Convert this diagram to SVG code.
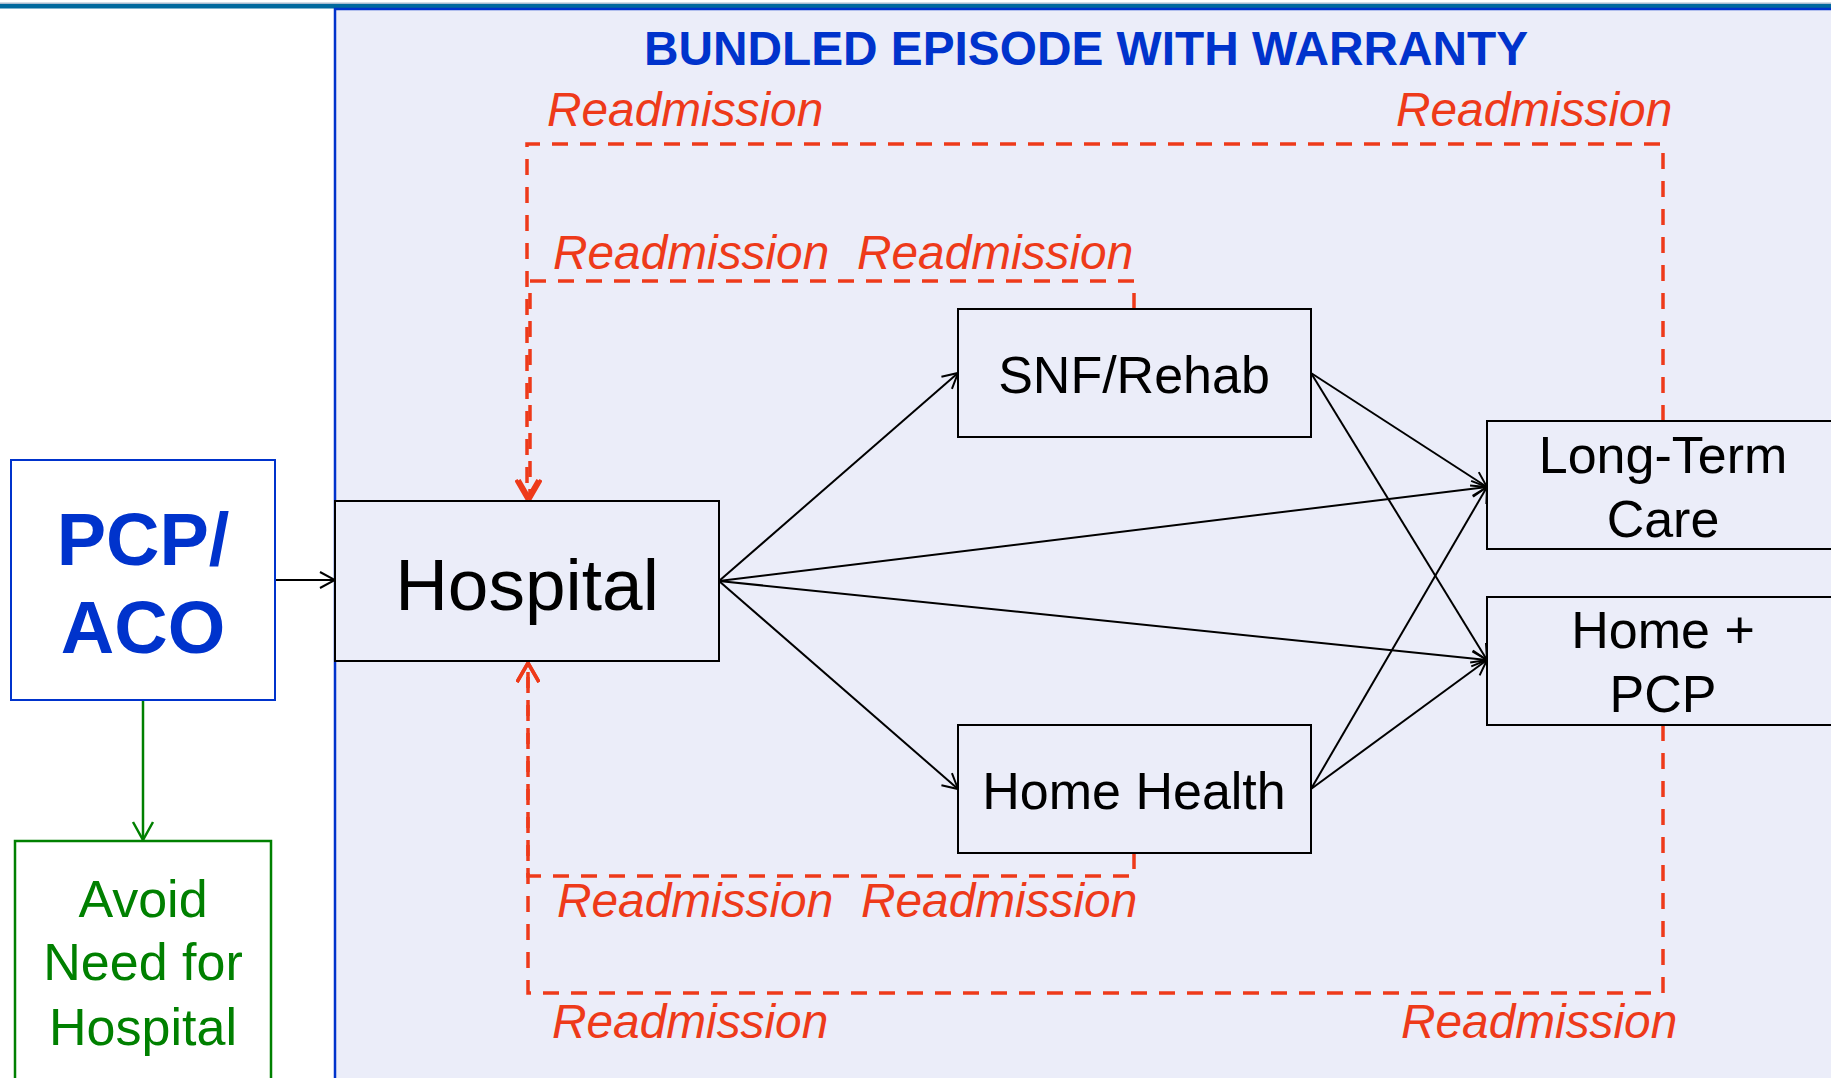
<svg xmlns="http://www.w3.org/2000/svg" width="1831" height="1078" viewBox="0 0 1831 1078">
<style>
.box{fill:#EBEDF9;stroke:#000;stroke-width:2}
.lbl{font-family:"Liberation Sans",Arial,sans-serif;font-size:52px;fill:#000;text-anchor:middle}
.ra{font-family:"Liberation Sans",Arial,sans-serif;font-size:47.8px;font-style:italic;fill:#EE3A1A}
.conn{stroke:#000;stroke-width:2;fill:none;marker-end:url(#ab)}
.red{stroke:#EE3A1A;stroke-width:3.5;fill:none;stroke-dasharray:16 12}
</style>
<defs>
<marker id="ab" viewBox="0 0 20 20" refX="19" refY="10" markerWidth="20" markerHeight="20" markerUnits="userSpaceOnUse" orient="auto">
<path d="M4,2 L19,10 L4,18" fill="none" stroke="#000" stroke-width="2"/>
</marker>
<marker id="ag" viewBox="0 0 24 24" refX="22" refY="12" markerWidth="24" markerHeight="24" markerUnits="userSpaceOnUse" orient="auto">
<path d="M4,2 L22,12 L4,22" fill="none" stroke="#008000" stroke-width="2.5"/>
</marker>
<marker id="ar" viewBox="0 0 24 24" refX="22" refY="12" markerWidth="24" markerHeight="24" markerUnits="userSpaceOnUse" orient="auto">
<path d="M3,1 L22,12 L3,23" fill="none" stroke="#EE3A1A" stroke-width="3.5"/>
</marker>
</defs>
<rect width="1831" height="1078" fill="#fff"/>
<rect x="0" y="2.5" width="1831" height="1.5" fill="#A8BCD0"/>
<rect x="0" y="4" width="1831" height="4.5" fill="#00699E"/>
<g id="panel">
<rect x="335" y="9" width="1500" height="1075" fill="#EBEDF9" stroke="#0033CC" stroke-width="2.5"/>
<text x="1086" y="65" font-family="'Liberation Sans',Arial,sans-serif" font-size="47.8" font-weight="bold" fill="#0033CC" text-anchor="middle">BUNDLED EPISODE WITH WARRANTY</text>
</g>
<g id="connectors">
<path class="red" d="M1663,421 V144 H527 V499" marker-end="url(#ar)"/>
<path class="red" d="M1134,309 V281 H530 V499" marker-end="url(#ar)"/>
<path class="red" d="M1134,853 V876 H528 V663" marker-end="url(#ar)"/>
<path class="red" d="M1663,725 V993 H528 V663" marker-end="url(#ar)"/>
<line class="conn" x1="275" y1="580" x2="335" y2="580"/>
<line class="conn" x1="719" y1="581" x2="958" y2="373"/>
<line class="conn" x1="719" y1="581" x2="1487" y2="487"/>
<line class="conn" x1="719" y1="581" x2="1487" y2="660"/>
<line class="conn" x1="719" y1="581" x2="958" y2="789"/>
<line class="conn" x1="1311" y1="373" x2="1487" y2="487"/>
<line class="conn" x1="1311" y1="373" x2="1487" y2="660"/>
<line class="conn" x1="1311" y1="789" x2="1487" y2="487"/>
<line class="conn" x1="1311" y1="789" x2="1487" y2="660"/>
<line x1="143" y1="700" x2="143" y2="840" stroke="#008000" stroke-width="2.5" marker-end="url(#ag)"/>
</g>
<g id="labels">
<text class="ra" x="547" y="126">Readmission</text>
<text class="ra" x="1396" y="126">Readmission</text>
<text class="ra" x="553" y="269">Readmission</text>
<text class="ra" x="857" y="269">Readmission</text>
<text class="ra" x="557" y="917">Readmission</text>
<text class="ra" x="861" y="917">Readmission</text>
<text class="ra" x="552" y="1038">Readmission</text>
<text class="ra" x="1401" y="1038">Readmission</text>
</g>
<g id="pcp">
<rect x="11" y="460" width="264" height="240" fill="#fff" stroke="#0033CC" stroke-width="2"/>
<text x="143" y="565" font-family="'Liberation Sans',Arial,sans-serif" font-size="74" font-weight="bold" fill="#0033CC" text-anchor="middle">PCP/</text>
<text x="143" y="653" font-family="'Liberation Sans',Arial,sans-serif" font-size="74" font-weight="bold" fill="#0033CC" text-anchor="middle">ACO</text>
</g>
<g id="avoid">
<rect x="15" y="841" width="256" height="250" fill="#fff" stroke="#008000" stroke-width="2.5"/>
<text class="lbl" x="143" y="917" style="fill:#008000">Avoid</text>
<text class="lbl" x="143" y="980" style="fill:#008000">Need for</text>
<text class="lbl" x="143" y="1045" style="fill:#008000">Hospital</text>
</g>
<g id="hospital">
<rect class="box" x="335" y="501" width="384" height="160"/>
<text class="lbl" x="527" y="610" style="font-size:73px">Hospital</text>
</g>
<g id="snf">
<rect class="box" x="958" y="309" width="353" height="128"/>
<text class="lbl" x="1134" y="393">SNF/Rehab</text>
</g>
<g id="homehealth">
<rect class="box" x="958" y="725" width="353" height="128"/>
<text class="lbl" x="1134" y="809">Home Health</text>
</g>
<g id="ltc">
<rect class="box" x="1487" y="421" width="360" height="128"/>
<text class="lbl" x="1663" y="473">Long-Term</text>
<text class="lbl" x="1663" y="537">Care</text>
</g>
<g id="homepcp">
<rect class="box" x="1487" y="597" width="360" height="128"/>
<text class="lbl" x="1663" y="648">Home +</text>
<text class="lbl" x="1663" y="712">PCP</text>
</g>
</svg>
